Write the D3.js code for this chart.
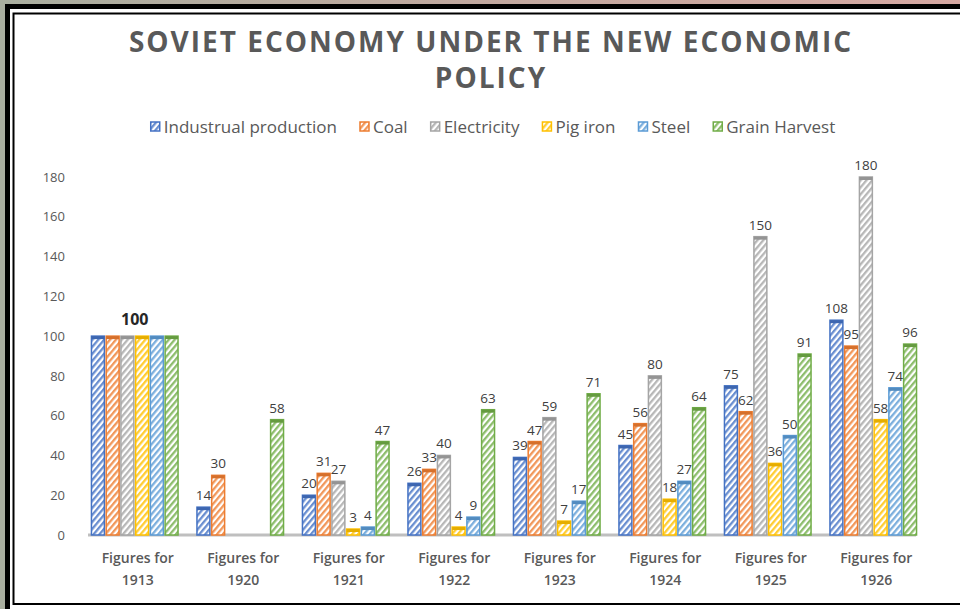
<!DOCTYPE html>
<html><head><meta charset="utf-8">
<script src="https://cdn.jsdelivr.net/npm/d3@7"></script>
<style>html,body{margin:0;padding:0;background:#fff;}svg{display:block;}</style>
</head><body>
<svg id="chart" width="960" height="609"></svg>
<script>
const categories = ["1913","1920","1921","1922","1923","1924","1925","1926"];
const seriesNames = ["Industrual production","Coal","Electricity","Pig iron","Steel","Grain Harvest"];
const industrial = [100,14,20,26,39,45,75,108];
const coal = [100,30,31,33,47,56,62,95];
const electricity = [100,null,27,40,59,80,150,180];
const pigIron = [100,null,3,4,7,18,36,58];
const steel = [100,null,4,9,17,27,50,74];
const grain = [100,58,47,63,71,64,91,96];
const yTicks = [0,20,40,60,80,100,120,140,160,180];
const colors = ["#4472C4","#ED7D31","#A5A5A5","#FFC000","#5B9BD5","#70AD47"];

const seriesValues = [industrial,coal,electricity,pigIron,steel,grain];
const svg = d3.select("#chart");
const font = "'Open Sans', 'Liberation Sans', sans-serif";

// background / frame
const defs = svg.append("defs");
const g0 = defs.append("linearGradient").attr("id","bgGrad").attr("x1","0").attr("x2","1").attr("y1","0").attr("y2","0");
g0.append("stop").attr("offset","0").attr("stop-color","#a9ae9f");
g0.append("stop").attr("offset","0.5").attr("stop-color","#c2a9a0");
g0.append("stop").attr("offset","1").attr("stop-color","#d6a8a2");
svg.append("rect").attr("width",960).attr("height",609).attr("fill","url(#bgGrad)");
svg.append("rect").attr("x",7.5).attr("y",6.5).attr("width",1000).attr("height",700)
  .attr("fill","#fff").attr("stroke","#000").attr("stroke-width",5);
svg.append("rect").attr("x",13.5).attr("y",13.5).attr("width",1000).attr("height",590.5)
  .attr("fill","#fff").attr("stroke","#000").attr("stroke-width",2);

// patterns
colors.forEach((c,i)=>{
  const p = defs.append("pattern").attr("id","hatch"+i).attr("patternUnits","userSpaceOnUse")
    .attr("width",4.5).attr("height",4.5).attr("patternTransform","rotate(40)");
  p.append("rect").attr("width",4.5).attr("height",4.5).attr("fill","#fff");
  p.append("rect").attr("width",2.3).attr("height",4.5).attr("fill",c).attr("opacity",0.8);
});

// title
const title = svg.append("text").attr("text-anchor","middle").attr("fill","#595959")
  .style("font-family",font).style("font-weight","bold").style("font-size","28px").style("letter-spacing","2px");
title.append("tspan").attr("x",491).attr("y",52).text("SOVIET ECONOMY UNDER THE NEW ECONOMIC");
title.append("tspan").attr("x",491).attr("y",88).text("POLICY");

// scales
const x = d3.scaleBand().domain(categories).range([82,926]).paddingInner(0.165).paddingOuter(0.0825);
const xs = d3.scaleBand().domain(d3.range(6)).range([0,x.bandwidth()]).paddingInner(0.02);
const y = d3.scaleLinear().domain([0,180]).range([535,177]);

// y axis labels
const yAxis = d3.axisLeft(y).tickValues(yTicks).tickSize(0).tickPadding(0);
const ya = svg.append("g").attr("transform","translate(65,0)").call(yAxis);
ya.select(".domain").remove();
ya.selectAll("text").style("font-family",font).style("font-size","13px").attr("fill","#595959");

// baseline
svg.append("line").attr("x1",88).attr("x2",916).attr("y1",y(0)).attr("y2",y(0))
  .attr("stroke","#bfbfbf").attr("stroke-width",3);

// bars
const flat = [];
categories.forEach((cat,ci)=>{
  seriesValues.forEach((vals,si)=>{
    if(vals[ci]!=null) flat.push({cat,si,v:vals[ci],ci});
  });
});
const bars = svg.append("g");
bars.selectAll("rect.bar").data(flat).join("rect").attr("class","bar")
  .attr("x",d=>x(d.cat)+xs(d.si)+0.75)
  .attr("y",d=>y(d.v))
  .attr("width",xs.bandwidth()-1.5)
  .attr("height",d=>y(0)-y(d.v))
  .attr("fill",d=>"url(#hatch"+d.si+")")
  .attr("stroke",d=>colors[d.si]).attr("stroke-width",1.5);
bars.selectAll("rect.cap").data(flat).join("rect").attr("class","cap")
  .attr("x",d=>x(d.cat)+xs(d.si)+0.75)
  .attr("y",d=>y(d.v))
  .attr("width",xs.bandwidth()-1.5)
  .attr("height",d=>Math.min(3,y(0)-y(d.v)))
  .attr("fill",d=>d3.color(colors[d.si]).darker(0.3));

// data labels
svg.append("g").selectAll("text").data(flat.filter(d=>d.ci>0)).join("text")
  .attr("x",d=>x(d.cat)+xs(d.si)+xs.bandwidth()/2)
  .attr("y",d=>y(d.v)-7)
  .attr("text-anchor","middle")
  .style("font-family",font).style("font-size","13.5px").attr("fill","#404040")
  .text(d=>d.v);
svg.append("text").attr("x",x("1913")+x.bandwidth()/2).attr("y",y(100)-11)
  .attr("text-anchor","middle").style("font-family",font).style("font-weight","bold")
  .style("font-size","16px").attr("fill","#262626").text(industrial[0]);

// category labels
const cl = svg.append("g").selectAll("text").data(categories).join("text")
  .attr("text-anchor","middle").attr("fill","#595959")
  .style("font-family",font).style("font-weight","600").style("font-size","14px");
cl.append("tspan").attr("x",d=>x(d)+x.bandwidth()/2+3).attr("y",563).text("Figures for");
cl.append("tspan").attr("x",d=>x(d)+x.bandwidth()/2+3).attr("y",585).text(d=>d);

// legend
const leg = svg.append("g");
let lx = 0;
const gap = 23;
seriesNames.forEach((n,i)=>{
  const gi = leg.append("g");
  gi.append("rect").attr("x",0).attr("y",-5).attr("width",9).attr("height",9)
    .attr("fill","url(#hatch"+i+")").attr("stroke",colors[i]).attr("stroke-width",1.5);
  const t = gi.append("text").attr("x",13).attr("y",5.5).attr("fill","#595959")
    .style("font-family",font).style("font-size","17px").text(n);
  const w = 13 + t.node().getComputedTextLength();
  gi.attr("transform",`translate(${lx},127)`);
  lx += w + gap;
});
const totalW = lx - gap;
leg.attr("transform",`translate(${493 - totalW/2},0)`);
</script>
</body></html>
